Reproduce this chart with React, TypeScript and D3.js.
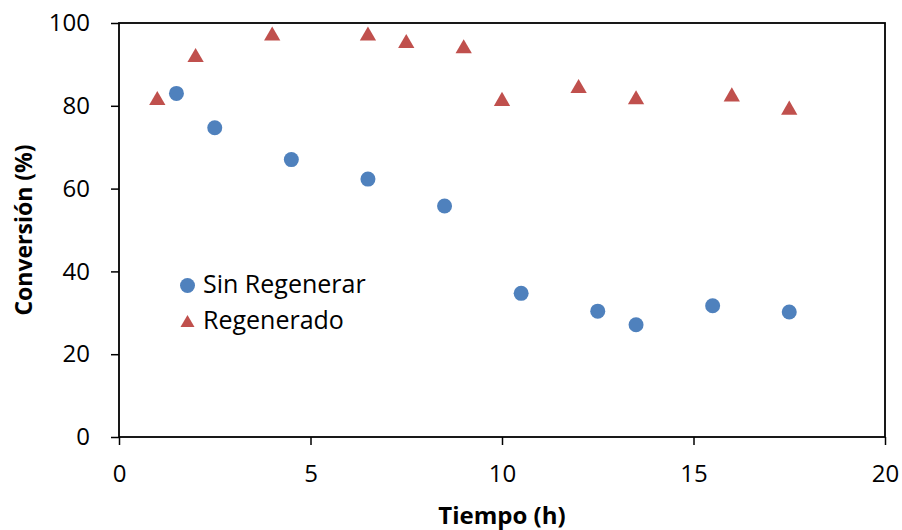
import React, { useEffect, useRef } from 'react';
import * as d3 from 'd3';

// Series values
const sinRegenerarX = [1.5, 2.5, 4.5, 6.5, 8.5, 10.5, 12.5, 13.5, 15.5, 17.5];
const sinRegenerarY = [83, 74.7, 67, 62.3, 55.8, 34.7, 30.4, 27.1, 31.7, 30.2];
const regeneradoX = [1, 2, 4, 6.5, 7.5, 9, 10, 12, 13.5, 16, 17.5];
const regeneradoY = [81.3, 91.7, 96.9, 96.9, 95.1, 93.8, 81.1, 84.2, 81.5, 82.2, 79];
const xTicks = [0, 5, 10, 15, 20];
const yTicks = [0, 20, 40, 60, 80, 100];

const BLUE = '#4F81BD';
const RED = '#C0504D';
const FONT = '"Open Sans", "Liberation Sans", sans-serif';

const App = () => {
  const ref = useRef<SVGSVGElement | null>(null);

  useEffect(() => {
    if (!ref.current) return;
    const svg = d3.select(ref.current);
    svg.selectAll('*').remove();

    // plot box in page pixels (svg is pinned to the top-left corner)
    const left = 119, top = 23, right = 885, bottom = 437;

    const x = d3.scaleLinear().domain([0, 20]).range([left, right]);
    const y = d3.scaleLinear().domain([0, 100]).range([bottom, top]);

    // Axes
    const xAxis = svg.append('g')
      .attr('transform', `translate(0,${bottom})`)
      .call(d3.axisBottom(x).tickValues(xTicks).tickSize(8).tickPadding(20) as any);
    const yAxis = svg.append('g')
      .attr('transform', `translate(${left},0)`)
      .call(d3.axisLeft(y).tickValues(yTicks).tickSize(8).tickPadding(21) as any);

    [xAxis, yAxis].forEach(g => {
      g.select('.domain').remove();
      g.selectAll('line').attr('stroke', '#000').attr('stroke-width', 1.5);
      g.selectAll('text')
        .style('font-family', FONT)
        .style('font-size', '24px')
        .attr('fill', '#000');
    });

    // Plot box
    svg.append('rect')
      .attr('x', left)
      .attr('y', top)
      .attr('width', right - left)
      .attr('height', bottom - top)
      .attr('fill', 'none')
      .attr('stroke', '#000')
      .attr('stroke-width', 1.8);

    // Sin Regenerar (circles)
    svg.selectAll('circle.sin')
      .data(sinRegenerarX.map((d, i) => [d, sinRegenerarY[i]]))
      .enter()
      .append('circle')
      .attr('class', 'sin')
      .attr('cx', d => x(d[0]))
      .attr('cy', d => y(d[1]))
      .attr('r', 7.5)
      .attr('fill', BLUE);

    // Regenerado (triangles)
    const tri = d3.symbol().type(d3.symbolTriangle).size(115);
    svg.selectAll('path.reg')
      .data(regeneradoX.map((d, i) => [d, regeneradoY[i]]))
      .enter()
      .append('path')
      .attr('class', 'reg')
      .attr('d', tri as any)
      .attr('transform', d => `translate(${x(d[0])},${y(d[1])})`)
      .attr('fill', RED);

    // Legend
    const lg = svg.append('g');
    lg.append('circle').attr('cx', 187.5).attr('cy', 285.5).attr('r', 7.5).attr('fill', BLUE);
    lg.append('text').attr('x', 203).attr('y', 293)
      .style('font-family', FONT).style('font-size', '25px').text('Sin Regenerar');
    lg.append('path').attr('d', d3.symbol().type(d3.symbolTriangle).size(85) as any)
      .attr('transform', 'translate(187.5,323)').attr('fill', RED);
    lg.append('text').attr('x', 203).attr('y', 329)
      .style('font-family', FONT).style('font-size', '25px').text('Regenerado');

    // Axis titles
    svg.append('text')
      .attr('x', (left + right) / 2)
      .attr('y', 524)
      .attr('text-anchor', 'middle')
      .style('font-family', FONT)
      .style('font-size', '24px')
      .style('font-weight', 'bold')
      .text('Tiempo (h)');
    svg.append('text')
      .attr('transform', `translate(32,${(top + bottom) / 2}) rotate(-90)`)
      .attr('text-anchor', 'middle')
      .style('font-family', FONT)
      .style('font-size', '23px')
      .style('font-weight', 'bold')
      .text('Conversión (%)');
  }, []);

  return (
    <svg
      ref={ref}
      width={902}
      height={530}
      style={{ position: 'absolute', left: 0, top: 0, display: 'block' }}
    />
  );
};

export default App;
